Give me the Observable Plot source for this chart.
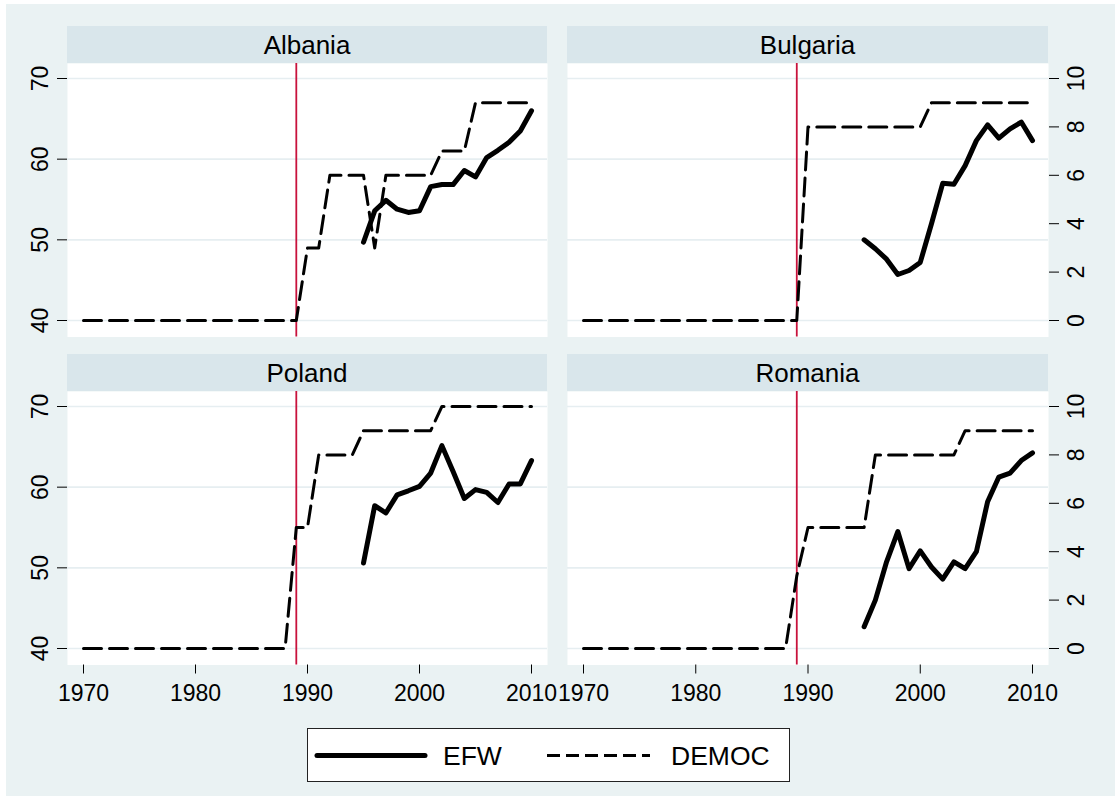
<!DOCTYPE html>
<html>
<head>
<meta charset="utf-8">
<script src="https://cdn.jsdelivr.net/npm/d3@7"></script>
<script src="https://cdn.jsdelivr.net/npm/@observablehq/plot@0.6"></script>
<style>
  html, body { margin: 0; padding: 0; background: #ffffff; }
  #page { position: relative; width: 1115px; height: 796px; overflow: hidden; font-family: "Liberation Sans", Arial, Helvetica, sans-serif; color: #000; }
  #bg { position: absolute; left: 6px; top: 4px; width: 1109px; height: 792px; background: #eaf2f3; }
  .strip { position: absolute; height: 37px; background: #d9e6eb; display: flex; align-items: center; justify-content: center; font-size: 26px; line-height: 1; }
  .panel { position: absolute; }
  #legend { position: absolute; left: 307px; top: 728px; }
</style>
</head>
<body>
<div id="page">
  <div id="bg"></div>
</div>
<script>
// ---------------- data ----------------
const countries = ["Albania", "Bulgaria", "Poland", "Romania"];
const efwYears = [1995, 1996, 1997, 1998, 1999, 2000, 2001, 2002, 2003, 2004, 2005, 2006, 2007, 2008, 2009, 2010];
const democYears = d3.range(1970, 2011);

const efwAlbania  = [49.7, 53.6, 54.9, 53.8, 53.4, 53.6, 56.6, 56.85, 56.85, 58.6, 57.8, 60.2, 61.1, 62.1, 63.5, 66.0];
const efwBulgaria = [50.0, 48.9, 47.6, 45.7, 46.2, 47.2, 52.0, 57.0, 56.9, 59.2, 62.3, 64.25, 62.6, 63.75, 64.6, 62.3];
const efwPoland   = [50.6, 57.7, 56.8, 59.05, 59.55, 60.1, 61.75, 65.15, 61.95, 58.6, 59.7, 59.35, 58.1, 60.4, 60.4, 63.3];
const efwRomania  = [42.7, 46.0, 50.75, 54.5, 49.9, 52.1, 50.1, 48.6, 50.75, 49.9, 52.0, 58.2, 61.25, 61.75, 63.3, 64.25];

//                    1970 ...                                   1989 1990 ...                                        2010
const democAlbania  = [0,0,0,0,0,0,0,0,0,0, 0,0,0,0,0,0,0,0,0,0, 3,3,6,6,6,6,3,6,6,6, 6,6,7,7,7,9,9,9,9,9, 9];
const democBulgaria = [0,0,0,0,0,0,0,0,0,0, 0,0,0,0,0,0,0,0,0,0, 8,8,8,8,8,8,8,8,8,8, 8,9,9,9,9,9,9,9,9,9, 9];
const democPoland   = [0,0,0,0,0,0,0,0,0,0, 0,0,0,0,0,0,0,0,0,5, 5,8,8,8,8,9,9,9,9,9, 9,9,10,10,10,10,10,10,10,10, 10];
const democRomania  = [0,0,0,0,0,0,0,0,0,0, 0,0,0,0,0,0,0,0,0,3, 5,5,5,5,5,5,8,8,8,8, 8,8,8,8,9,9,9,9,9,9, 9];

const transitionYear = [1989];
const xTicks = [1970, 1980, 1990, 2000, 2010];
const efwTicks = [40, 50, 60, 70];
const democTicks = [0, 2, 4, 6, 8, 10];
const seriesNames = ["EFW", "DEMOC"];

// DEMOC (0-10) is drawn on the EFW (40-70) scale: 0 <-> 40, 10 <-> 70
const democToEfw = d => 40 + 3 * d;

// ---------------- layout ----------------
const panels = [
  {name: countries[0], efw: efwAlbania,  democ: democAlbania,  side: "left",  bottom: false, left: 0,   top: 63},
  {name: countries[1], efw: efwBulgaria, democ: democBulgaria, side: "right", bottom: false, left: 567, top: 63},
  {name: countries[2], efw: efwPoland,   democ: democPoland,   side: "left",  bottom: true,  left: 0,   top: 391},
  {name: countries[3], efw: efwRomania,  democ: democRomania,  side: "right", bottom: true,  left: 567, top: 391}
];

const page = document.getElementById("page");
const RED = "#c8123c";
const GRID = "#e6eef1";

for (const p of panels) {
  const plotW = p.side === "left" ? 480 : 481;
  const mLeft = p.side === "left" ? 67 : 0;
  const mRight = p.side === "left" ? 0 : 67;
  const mBottom = p.bottom ? 45 : 0;
  const plotH = 273.5;

  // strip
  const strip = document.createElement("div");
  strip.className = "strip";
  strip.style.left = (p.left + mLeft) + "px";
  strip.style.top = (p.top - 37) + "px";
  strip.style.width = plotW + "px";
  strip.textContent = p.name;
  page.appendChild(strip);

  const efwData = efwYears.map((year, i) => ({year, value: p.efw[i]}));
  const democData = democYears.map((year, i) => ({year, value: p.democ[i]}));

  const marks = [
    Plot.frame({fill: "white", stroke: null}),
    Plot.gridY({ticks: efwTicks, stroke: GRID, strokeOpacity: 1, strokeWidth: 1.6}),
    Plot.ruleX(transitionYear, {stroke: RED, strokeWidth: 1.8}),
    Plot.line(democData, {x: "year", y: d => democToEfw(d.value), stroke: "black", strokeWidth: 3, strokeDasharray: "18,8"}),
    Plot.line(efwData, {x: "year", y: "value", stroke: "black", strokeWidth: 5, strokeLinejoin: "round", strokeLinecap: "round"})
  ];
  if (p.side === "left") {
    marks.push(Plot.axisY({anchor: "left", ticks: efwTicks, tickFormat: d => String(d), tickSize: 10, tickPadding: 10, tickRotate: -90, lineAnchor: "bottom", label: null, line: true}));
  } else {
    marks.push(Plot.axisY({anchor: "right", ticks: democTicks.map(democToEfw), tickFormat: v => String(Math.round((v - 40) / 3)), tickSize: 10, tickPadding: 9, tickRotate: -90, lineAnchor: "top", label: null, line: true}));
  }
  if (p.bottom) {
    marks.push(Plot.axisX({anchor: "bottom", ticks: xTicks, tickFormat: d => String(d), tickSize: 9, tickPadding: 11, label: null, line: true}));
  }

  const chart = Plot.plot({
    width: mLeft + plotW + mRight,
    height: plotH + mBottom,
    marginLeft: mLeft,
    marginRight: mRight,
    marginTop: 0,
    marginBottom: mBottom,
    style: {background: "transparent", fontSize: "23px", fontFamily: "'Liberation Sans', Arial, Helvetica, sans-serif", color: "black", overflow: "visible"},
    x: {domain: [1970, 2010], insetLeft: 16, insetRight: 16, axis: p.bottom ? undefined : null, label: null},
    y: {domain: [40, 70], insetTop: 15, insetBottom: 16.5, label: null},
    marks
  });
  const wrap = document.createElement("div");
  wrap.className = "panel";
  wrap.style.left = p.left + "px";
  wrap.style.top = p.top + "px";
  wrap.appendChild(chart);
  page.appendChild(wrap);
}

// ---------------- legend ----------------
const legendW = 483, legendH = 54;
const lg = d3.create("svg").attr("width", legendW).attr("height", legendH)
  .style("font-family", "'Liberation Sans', Arial, Helvetica, sans-serif");
lg.append("rect").attr("x", 0.5).attr("y", 0.5).attr("width", legendW - 1).attr("height", legendH - 1)
  .attr("fill", "white").attr("stroke", "#222").attr("stroke-width", 1);
lg.append("line").attr("x1", 10).attr("x2", 118).attr("y1", 27.5).attr("y2", 27.5)
  .attr("stroke", "black").attr("stroke-width", 5).attr("stroke-linecap", "round");
lg.append("text").attr("x", 136).attr("y", 37).attr("font-size", 26.5).text(seriesNames[0]);
lg.append("line").attr("x1", 240).attr("x2", 343).attr("y1", 27.5).attr("y2", 27.5)
  .attr("stroke", "black").attr("stroke-width", 3).attr("stroke-dasharray", "13,6");
lg.append("text").attr("x", 364).attr("y", 37).attr("font-size", 26.5).text(seriesNames[1]);
const legendDiv = document.createElement("div");
legendDiv.id = "legend";
legendDiv.appendChild(lg.node());
page.appendChild(legendDiv);
</script>
</body>
</html>
